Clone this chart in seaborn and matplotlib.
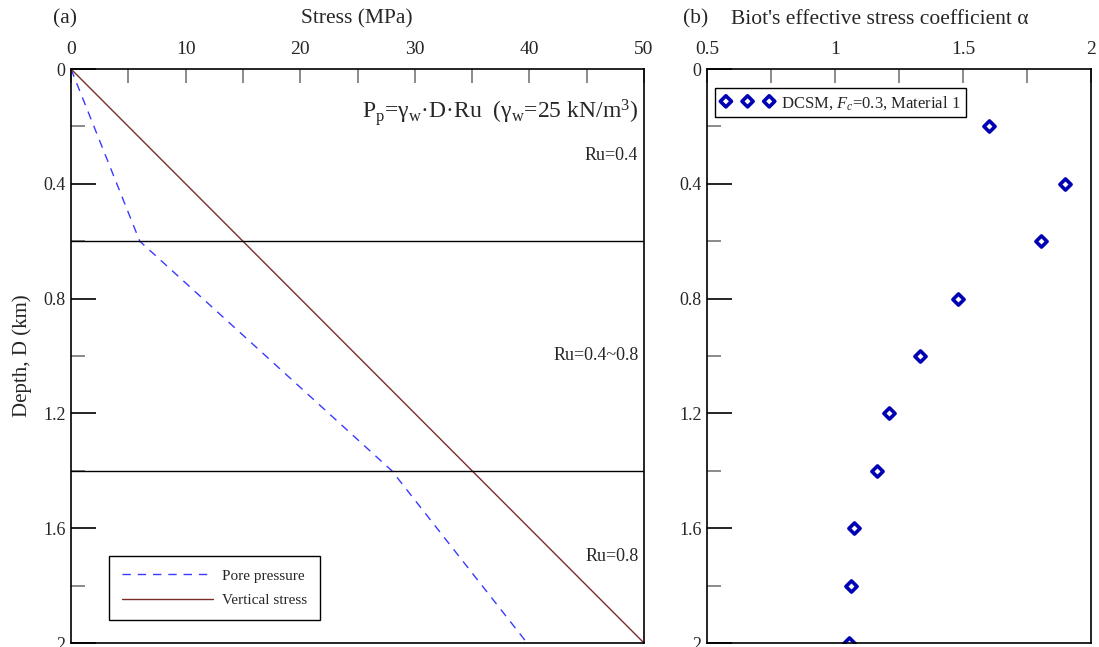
import matplotlib
matplotlib.use("Agg")
import matplotlib.pyplot as plt
from matplotlib.ticker import MultipleLocator, FuncFormatter
import seaborn as sns
import pandas as pd

# Depth profile of stresses (panel a)
depth_vs = [0.0, 2.0]
vertical_stress = [0.0, 50.0]
depth_pp = [0.0, 0.6, 1.4, 2.0]
pore_pressure = [0.0, 6.0, 28.0, 39.8]
ru_boundaries = [0.6, 1.4]
ru_labels = ["Ru=0.4", "Ru=0.4~0.8", "Ru=0.8"]
ru_label_depths = [0.3, 1.0, 1.7]

# Biot's coefficient profile (panel b)
biot_depth = [0.2, 0.4, 0.6, 0.8, 1.0, 1.2, 1.4, 1.6, 1.8, 2.0]
biot_alpha = [1.60, 1.90, 1.805, 1.48, 1.332, 1.211, 1.164, 1.074, 1.063, 1.055]

sns.set_theme(style="ticks")
plt.rcParams["font.family"] = ["Liberation Serif", "DejaVu Serif"]
plt.rcParams["mathtext.fontset"] = "custom"
plt.rcParams["mathtext.rm"] = "Liberation Serif"
plt.rcParams["mathtext.it"] = "Liberation Serif:italic"
plt.rcParams["axes.linewidth"] = 1.2

fig = plt.figure(figsize=(10.99, 6.47), dpi=100)
ax1 = fig.add_axes([71 / 1099, 1 - 643 / 647, 573 / 1099, 574 / 647])
ax2 = fig.add_axes([707 / 1099, 1 - 643 / 647, 384 / 1099, 574 / 647])

blue = "#3a3aff"
brown = "#7a2e2a"

# Panel (a): pore pressure and vertical stress against depth
df_pp = pd.DataFrame({"stress": pore_pressure, "depth": depth_pp})
df_vs = pd.DataFrame({"stress": vertical_stress, "depth": depth_vs})
sns.lineplot(data=df_pp, x="stress", y="depth", ax=ax1, color=blue, lw=1.0,
             linestyle=(0, (6, 5)), sort=False, label="Pore pressure")
sns.lineplot(data=df_vs, x="stress", y="depth", ax=ax1, color=brown, lw=1.0,
             sort=False, label="Vertical stress")
for d in ru_boundaries:
    ax1.axhline(d, color="black", lw=1.0)
for lab, d in zip(ru_labels, ru_label_depths):
    ax1.text(49.5, d, lab, ha="right", va="center", fontsize=13)
ax1.text(49.5, 0.15,
         r"P$_\mathrm{p}$=γ$_\mathrm{w}$·D·Ru  (γ$_\mathrm{w}$=25 kN/m$^3$)",
         ha="right", va="center", fontsize=17)

# Panel (b): Biot's coefficient against depth
df_b = pd.DataFrame({"alpha": biot_alpha, "depth": biot_depth})
sns.scatterplot(data=df_b, x="alpha", y="depth", ax=ax2, marker="D", s=32,
                facecolor="white", edgecolor="#0000b4", linewidth=2.6,
                label=r"DCSM, $F_c$=0.3, Material 1")

fmt = FuncFormatter(lambda v, p: "%g" % round(v, 2))
for ax in (ax1, ax2):
    ax.set_ylim(2, 0)
    ax.yaxis.set_major_locator(MultipleLocator(0.4))
    ax.yaxis.set_minor_locator(MultipleLocator(0.2))
    ax.xaxis.tick_top()
    ax.tick_params(axis="both", which="both", direction="in", top=True,
                   bottom=False, left=True, right=False, labelsize=13)
    ax.tick_params(axis="x", which="both", pad=8, labelsize=14)
    ax.tick_params(axis="y", which="both", pad=4)
    ax.tick_params(axis="y", which="major", length=18, width=1.2, color="black")
    ax.tick_params(axis="y", which="minor", length=10, width=1.2, color="#777777")
    ax.tick_params(axis="x", which="major", length=10, width=1.2, color="#777777")
    ax.tick_params(axis="x", which="minor", length=10, width=1.2, color="#777777")
    ax.set_xlabel("")
    ax.set_ylabel("")
    for s in ax.spines.values():
        s.set_visible(True)
        s.set_color("black")
    ax.xaxis.set_major_formatter(fmt)
    ax.yaxis.set_major_formatter(fmt)

ax1.set_xlim(0, 50)
ax1.xaxis.set_major_locator(MultipleLocator(10))
ax1.xaxis.set_minor_locator(MultipleLocator(5))
ax2.set_xlim(0.5, 2)
ax2.xaxis.set_major_locator(MultipleLocator(0.5))
ax2.xaxis.set_minor_locator(MultipleLocator(0.25))

leg1 = ax1.legend(loc="lower left", bbox_to_anchor=(0.066, 0.04), borderaxespad=0,
                  fontsize=11, frameon=True, fancybox=False, edgecolor="black",
                  handlelength=6.0, borderpad=0.85, labelspacing=0.7,
                  handletextpad=0.55, handleheight=0.7)
leg1.get_frame().set_linewidth(1.0)
leg1.get_frame().set_alpha(1)

leg2 = ax2.legend(loc="upper left", bbox_to_anchor=(0.021, 0.967), borderaxespad=0,
                  fontsize=12, frameon=True, fancybox=False, edgecolor="black",
                  scatterpoints=3, scatteryoffsets=[0.5], handlelength=3.2,
                  borderpad=0.35, handletextpad=0.4)
leg2.get_frame().set_linewidth(1.0)
leg2.get_frame().set_alpha(1)

fig.text(357 / 1099, 1 - 19 / 647, "Stress (MPa)", ha="center", va="center",
         fontsize=15.5)
fig.text(880 / 1099, 1 - 19 / 647, "Biot's effective stress coefficient α",
         ha="center", va="center", fontsize=15.5)
fig.text(53 / 1099, 1 - 19 / 647, "(a)", ha="left", va="center", fontsize=15.5)
fig.text(683 / 1099, 1 - 19 / 647, "(b)", ha="left", va="center", fontsize=15.5)
fig.text(22 / 1099, 1 - 356 / 647, "Depth, D (km)", rotation=90, ha="center",
         va="center", fontsize=15)

fig.savefig("out.png", dpi=100)
